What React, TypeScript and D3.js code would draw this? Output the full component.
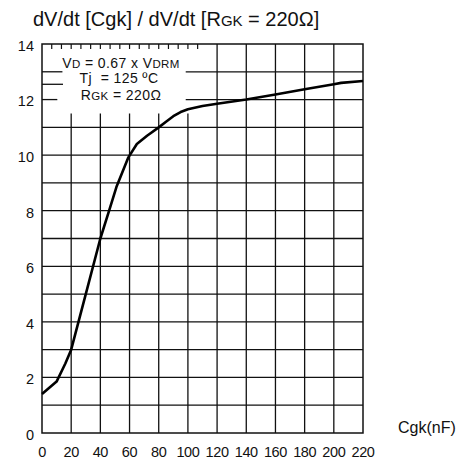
import React from 'react';
import * as d3 from 'd3';

// curve values
const cgk = [0, 10, 16, 20, 30, 40, 46, 51, 59, 65, 72, 80, 85, 90, 95, 100, 110, 120, 140, 160, 180, 200, 205, 220];
const ratio = [1.4, 1.85, 2.5, 3.0, 5.0, 7.0, 8.0, 8.85, 9.9, 10.4, 10.7, 11.0, 11.2, 11.4, 11.55, 11.65, 11.77, 11.85, 12.0, 12.18, 12.37, 12.55, 12.6, 12.67];

const xTicks = [0, 20, 40, 60, 80, 100, 120, 140, 160, 180, 200, 220];
const yTicks = [0, 2, 4, 6, 8, 10, 12, 14];
const yGrid = d3.range(1, 14);

const W = 469;
const H = 461;
const plot = { left: 42, right: 363, top: 44, bottom: 433 };

export default function App() {
  const x = d3.scaleLinear().domain([0, 220]).range([plot.left, plot.right]);
  const y = d3.scaleLinear().domain([0, 14]).range([plot.bottom, plot.top]);

  const line = d3.line<number>()
    .x((_, i) => x(cgk[i]))
    .y(d => y(d))
    .curve(d3.curveLinear);

  const font = 'Liberation Sans, Arial, sans-serif';
  const gridColor = '#111';
  const boxBottom = 11.5; // vertical grid stops under the condition box
  const topTicks = d3.range(1, 17).map(i => (i * 20) / 3);

  // horizontal grid segments; rows hidden behind the condition text are split
  const hSegments: [number, number, number][] = [];
  yGrid.forEach(v => {
    if (v === 13) {
      hSegments.push([v, 0, 14]);
      hSegments.push([v, 98.5, 220]);
    } else if (v === 12) {
      hSegments.push([v, 0, 10.5]);
      hSegments.push([v, 98.5, 220]);
    } else {
      hSegments.push([v, 0, 220]);
    }
  });
  hSegments.push([12.55, 0, 14.4]);

  return (
    <svg width={W} height={H} style={{ position: 'absolute', left: 0, top: 0, background: '#fff' }} fontFamily={font}>
      <text x={33} y={26} fontSize={20} fill="#111">
        dV/dt [Cgk] / dV/dt [R<tspan fontSize={15}>GK</tspan> = 220Ω]
      </text>

      {hSegments.map(([v, a, b], i) => (
        <line key={'h' + i} x1={x(a)} x2={x(b)} y1={y(v)} y2={y(v)} stroke={gridColor} strokeWidth={1.3} />
      ))}
      {xTicks.slice(1, -1).map(v => (
        <line key={'v' + v} x1={x(v)} x2={x(v)} y1={v <= 100 ? y(boxBottom) : y(14)} y2={y(0)} stroke={gridColor} strokeWidth={1.3} />
      ))}
      {topTicks.map(v => (
        <line key={'t' + v} x1={x(v)} x2={x(v)} y1={y(14)} y2={y(14) + 5} stroke={gridColor} strokeWidth={1.2} />
      ))}
      <rect x={plot.left} y={plot.top} width={plot.right - plot.left} height={plot.bottom - plot.top} fill="none" stroke={gridColor} strokeWidth={1.5} />

      <path d={line(ratio) ?? ''} fill="none" stroke="#000" strokeWidth={2.6} strokeLinejoin="round" />

      <g fontSize={14} fill="#111" textAnchor="middle" letterSpacing={0.4}>
        <text x={121} y={67.5}>V<tspan fontSize={11.5}>D</tspan> = 0.67 x V<tspan fontSize={11.5}>DRM</tspan></text>
        <text x={119} y={83} style={{ whiteSpace: 'pre' }}>Tj  = 125 ºC</text>
        <text x={121} y={99.5}>R<tspan fontSize={11.5}>GK</tspan> = 220Ω</text>
      </g>

      <g fontSize={14.5} fill="#111">
        {yTicks.map(v => (
          <text key={'yl' + v} x={34} y={y(v) + 3} textAnchor="end" dominantBaseline="middle">{v}</text>
        ))}
        {xTicks.map(v => (
          <text key={'xl' + v} x={x(v)} y={457} textAnchor="middle" letterSpacing={-0.4}>{v}</text>
        ))}
        <text x={398} y={433} fontSize={16}>Cgk(nF)</text>
      </g>
    </svg>
  );
}
